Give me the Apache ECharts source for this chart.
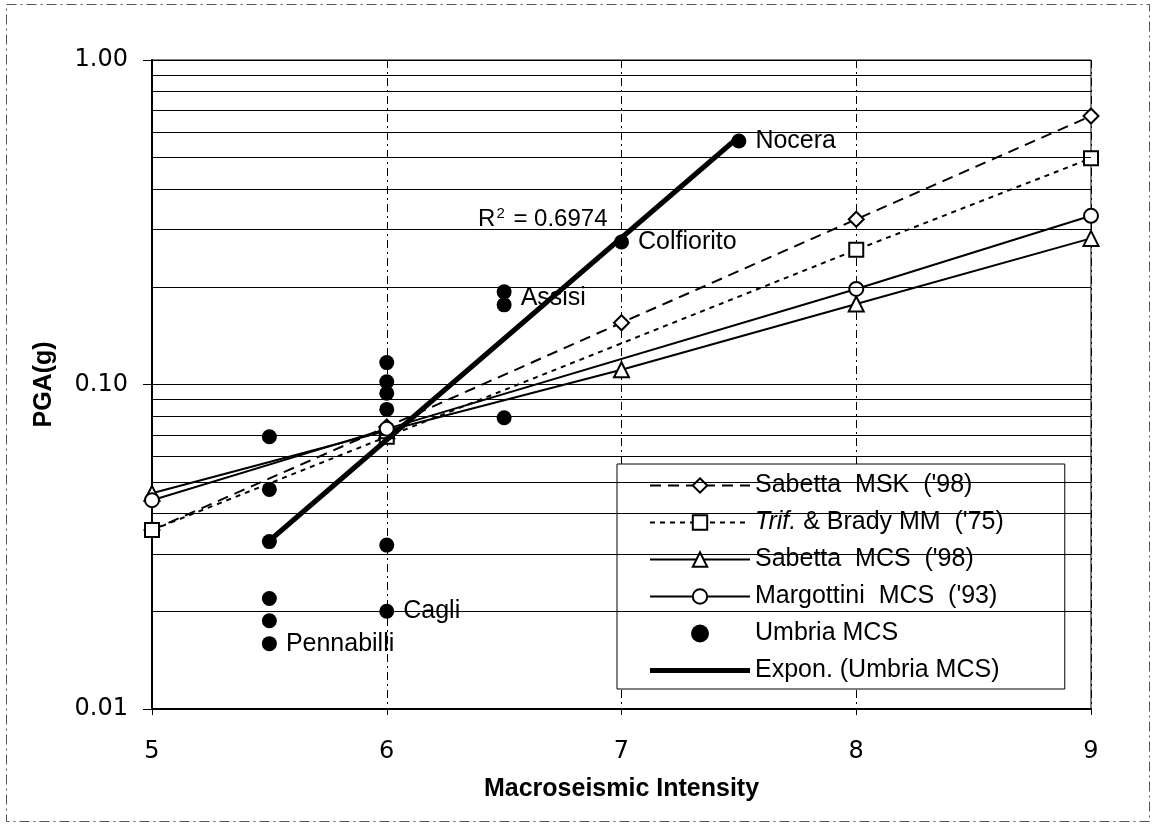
<!DOCTYPE html>
<html>
<head>
<meta charset="utf-8">
<title>PGA vs Macroseismic Intensity</title>
<script src="https://cdn.jsdelivr.net/npm/echarts@6/dist/echarts.min.js"></script>
<style>
  html, body { margin: 0; padding: 0; background: #fff; }
  #chart { width: 1155px; height: 829px; }
</style>
</head>
<body>
<div id="chart"></div>
<script>
// Attenuation relations: PGA (g) against intensity
const intensity = [5, 6, 7, 8, 9];
const sabettaMSK = [0.0356, 0.074, 0.155, 0.323, 0.672];
const trifBradyI = [5, 6, 8, 9];
const trifBradyMM = [0.0356, 0.069, 0.26, 0.498];
const sabettaMCS = [0.0462, 0.072, 0.111, 0.177, 0.282];
const margottiniI = [5, 6, 8, 9];
const margottiniMCS = [0.044, 0.073, 0.197, 0.331];

// Umbria recordings (intensity, PGA, site name)
const umbriaI   = [5.5, 5.5, 5.5, 5.5, 5.5, 5.5, 6, 6, 6, 6, 6, 6, 6.5, 6.5, 6.5, 7, 7.5];
const umbriaPGA = [0.069, 0.0475, 0.0328, 0.0219, 0.0187, 0.0159,
                   0.1168, 0.102, 0.094, 0.0838, 0.032, 0.020,
                   0.193, 0.176, 0.079, 0.275, 0.563];
const umbriaSite = ['', '', '', '', '', 'Pennabilli',
                    '', '', '', '', '', 'Cagli',
                    'Assisi', '', '', 'Colfiorito', 'Nocera'];

// Exponential trend through the Umbria data (end points)
const trendI = [5.5, 7.5];
const trendPGA = [0.033, 0.58];
const r2Value = '0.6974';

// Axis ticks and intermediate log grid lines
const xTicks = [5, 6, 7, 8, 9];
const yTicks = [0.01, 0.1, 1];
const minorGrid = [0.02, 0.03, 0.04, 0.05, 0.06, 0.07, 0.08, 0.09,
                   0.2, 0.3, 0.4, 0.5, 0.6, 0.7, 0.8, 0.9];

const names = {
  msk: "Sabetta  MSK  ('98)",
  trif: "Trif. & Brady MM  ('75)",
  smcs: "Sabetta  MCS  ('98)",
  marg: "Margottini  MCS  ('93)",
  umbria: 'Umbria MCS',
  trend: 'Expon. (Umbria MCS)'
};

const zip = (xs, ys) => xs.map((x, i) => [x, ys[i]]);
const FONT = '"Liberation Sans", Arial, Helvetica, sans-serif';
const TICK_FONT = '"DejaVu Sans", "Liberation Sans", Arial, sans-serif';
const hollow = { color: '#fff', borderColor: '#000', borderWidth: 2, opacity: 1 };

const chart = echarts.init(document.getElementById('chart'), null, { renderer: 'canvas' });

const option = {
  animation: false,
  backgroundColor: '#fff',
  textStyle: { fontFamily: FONT, color: '#000' },
  grid: {
    left: 152, right: 64, top: 60, bottom: 120,
    show: true, borderColor: '#000', borderWidth: 1, backgroundColor: 'transparent'
  },
  graphic: [{
    type: 'rect', silent: true, z: -10,
    shape: { x: 6.5, y: 4.5, width: 1143, height: 817 },
    style: { fill: 'none', stroke: '#555', lineWidth: 1, lineDash: [10, 4, 2, 4] }
  }],
  legend: {
    orient: 'vertical',
    left: 617, top: 464,
    itemWidth: 100, itemHeight: 18, itemGap: 12,
    padding: [9, 61, 6, 32],
    backgroundColor: '#fff',
    borderColor: '#000', borderWidth: 1, borderRadius: 0,
    textStyle: {
      fontFamily: FONT, fontSize: 25, color: '#000',
      rich: { it: { fontFamily: FONT, fontSize: 25, fontStyle: 'italic', color: '#000' } }
    },
    formatter: n => n === names.trif ? '{it|Trif.}' + n.slice(5) : n,
    data: [names.msk, names.trif, names.smcs, names.marg,
           { name: names.umbria, icon: 'circle' },
           { name: names.trend, icon: 'path://M0 0H100V5H0Z' }]
  },
  xAxis: {
    type: 'value', min: 5, max: 9, interval: 1,
    name: 'Macroseismic Intensity', nameLocation: 'middle', nameGap: 68,
    nameTextStyle: { fontFamily: FONT, fontSize: 25, fontWeight: 'bold', color: '#000' },
    axisLine: { onZero: false, lineStyle: { color: '#000', width: 2 } },
    axisTick: { show: true, length: 6, lineStyle: { color: '#000', width: 1 } },
    axisLabel: {
      fontFamily: TICK_FONT, fontSize: 24, color: '#000', margin: 31,
      formatter: v => xTicks.includes(v) ? String(v) : ''
    },
    splitLine: { show: true, lineStyle: { color: '#000', width: 1, type: [8, 4, 2, 4] } }
  },
  yAxis: {
    type: 'log', logBase: 10, min: yTicks[0], max: yTicks[yTicks.length - 1],
    name: 'PGA(g)', nameLocation: 'middle', nameGap: 95,
    nameTextStyle: { fontFamily: FONT, fontSize: 25, fontWeight: 'bold', color: '#000' },
    axisLine: { show: true, lineStyle: { color: '#000', width: 2 } },
    axisTick: { show: true, length: 9, lineStyle: { color: '#000', width: 1 } },
    axisLabel: {
      fontFamily: TICK_FONT, fontSize: 24, color: '#000', margin: 24,
      formatter: v => v.toFixed(2)
    },
    splitLine: { show: true, lineStyle: { color: '#000', width: 1 } }
  },
  series: [
    {
      // intermediate horizontal grid lines of the log axis
      name: 'logGrid', type: 'line', data: [], z: 1, silent: true,
      markLine: {
        silent: true, symbol: ['none', 'none'], label: { show: false },
        lineStyle: { color: '#000', width: 1, type: 'solid' },
        data: minorGrid.map(v => ({ yAxis: v }))
      }
    },
    {
      name: names.msk, type: 'line', z: 3,
      data: zip(intensity, sabettaMSK),
      symbol: 'diamond', symbolSize: 15, showAllSymbol: true,
      itemStyle: hollow,
      lineStyle: { color: '#000', width: 2, type: [11, 7] }
    },
    {
      name: names.trif, type: 'line', z: 3,
      data: zip(trifBradyI, trifBradyMM),
      symbol: 'rect', symbolSize: 14,
      itemStyle: hollow,
      lineStyle: { color: '#000', width: 2, type: [5, 5] }
    },
    {
      name: names.smcs, type: 'line', z: 3,
      data: zip(intensity, sabettaMCS),
      symbol: 'triangle', symbolSize: 15,
      itemStyle: hollow,
      lineStyle: { color: '#000', width: 2, type: 'solid' }
    },
    {
      name: names.marg, type: 'line', z: 3,
      data: zip(margottiniI, margottiniMCS),
      symbol: 'circle', symbolSize: 14,
      itemStyle: hollow,
      lineStyle: { color: '#000', width: 2, type: 'solid' }
    },
    {
      name: names.trend, type: 'line', z: 4,
      data: zip(trendI, trendPGA),
      symbol: 'none',
      lineStyle: { color: '#000', width: 5, type: 'solid' },
      itemStyle: { color: '#000' },
      markPoint: {
        symbol: 'circle', symbolSize: 0, silent: true,
        data: [{
          coord: [6.389, 0.322],
          label: {
            show: true, position: 'right', distance: 0,
            formatter: 'R{sup|2} = ' + r2Value,
            fontFamily: FONT, fontSize: 24, color: '#000',
            rich: {
              sup: { fontFamily: FONT, fontSize: 15, color: '#000', verticalAlign: 'top', padding: [0, 2, 12, 1] }
            }
          }
        }]
      }
    },
    {
      name: names.umbria, type: 'scatter', z: 5,
      symbol: 'circle', symbolSize: 15,
      itemStyle: { color: '#000', opacity: 1 },
      data: umbriaI.map((x, i) => ({
        value: [x, umbriaPGA[i]],
        label: {
          show: umbriaSite[i] !== '',
          offset: umbriaSite[i] === 'Assisi' ? [0, 6] : [0, 0]
        }
      })),
      label: {
        position: 'right', distance: 9,
        fontFamily: FONT, fontSize: 25, color: '#000',
        formatter: p => umbriaSite[p.dataIndex]
      }
    }
  ]
};

chart.setOption(option);
</script>
</body>
</html>
